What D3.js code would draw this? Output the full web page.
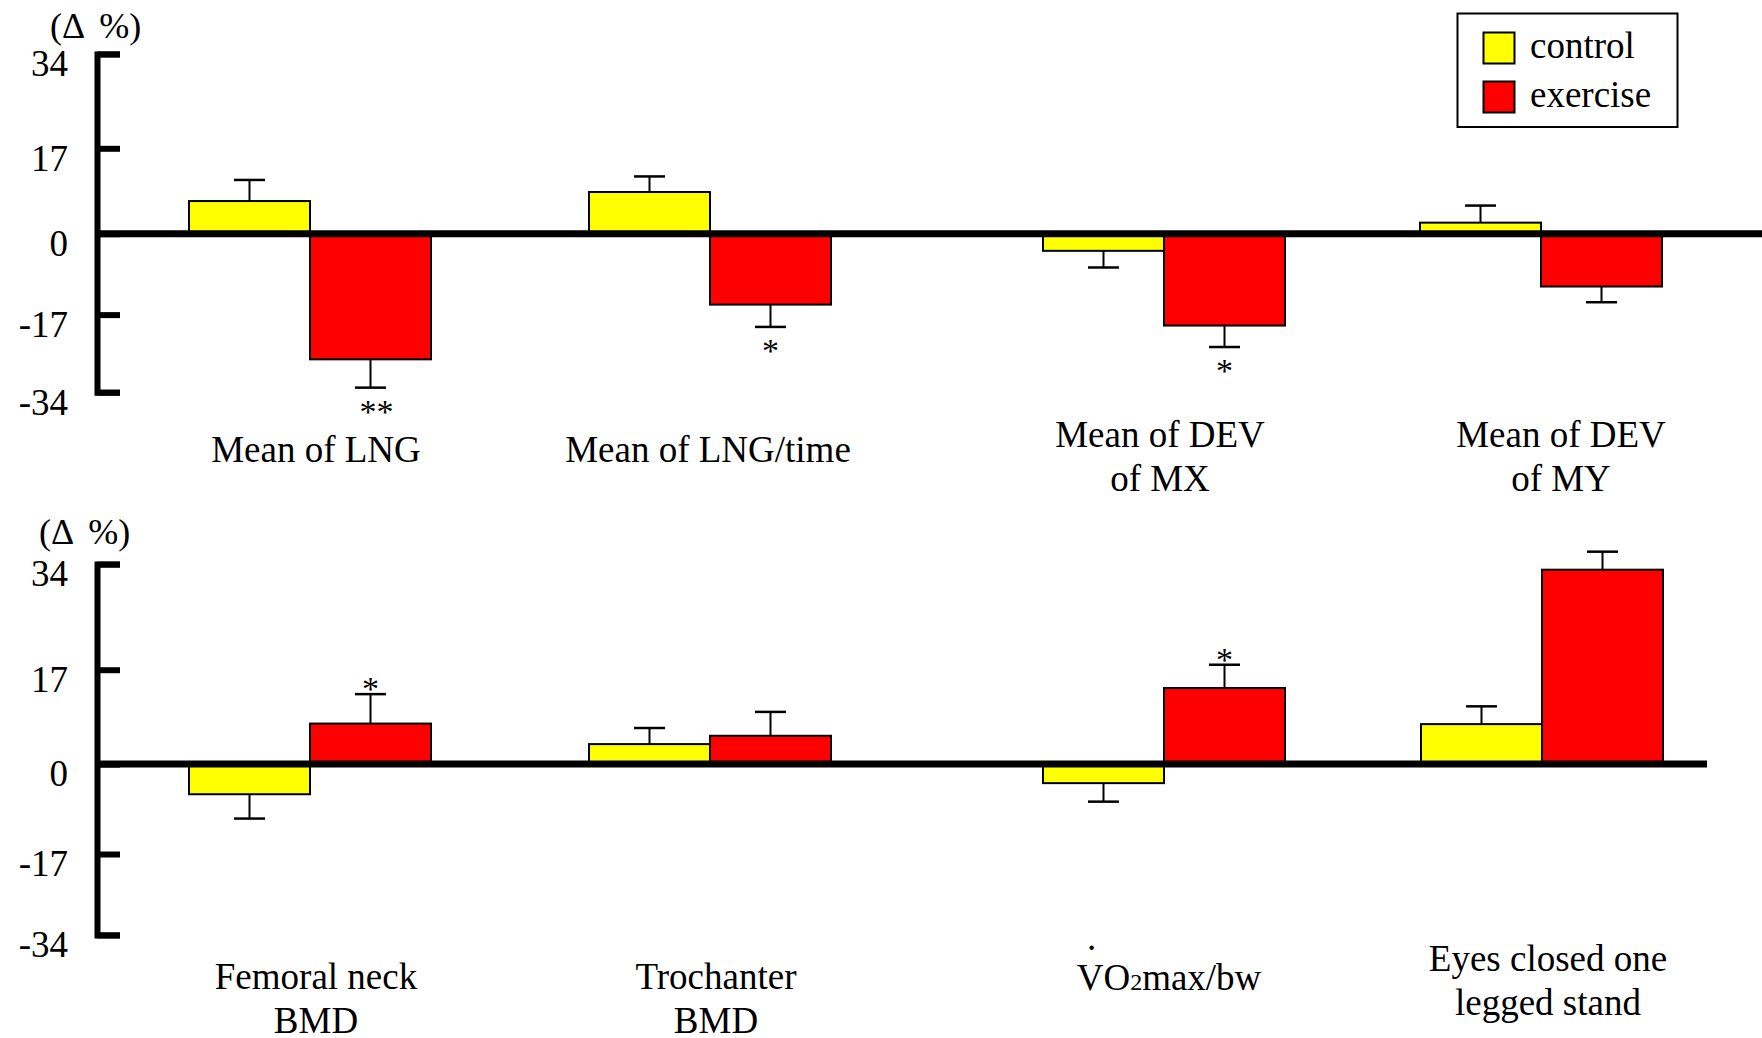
<!DOCTYPE html>
<html>
<head>
<meta charset="utf-8">
<script src="https://cdn.jsdelivr.net/npm/d3@7"></script>
<style>
  body { margin: 0; background: #fff; }
  svg { display: block; }
  text { font-family: "Liberation Serif", "Times New Roman", serif; fill: #000; }
</style>
</head>
<body>
<svg id="chart" width="1762" height="1038"></svg>
<script>
// ---- data ----------------------------------------------------------------
const ticks = [34, 17, 0, -17, -34];
const tickLabels = ["34", "17", "0", "-17", "-34"];
const seriesNames = ["control", "exercise"];
const seriesColors = ["#ffff00", "#ff0000"];
const unitLabel = "(\u0394 \u2009%)";

const topCategories = ["Mean of LNG", "Mean of LNG/time", "Mean of DEV\nof MX", "Mean of DEV\nof MY"];
const topControl = [6.5, 8.3, -3.6, 2.2];
const topControlErr = [4.2, 3.1, 3.5, 3.4];
const topExercise = [-26.8, -14.9, -19.4, -11.1];
const topExerciseErr = [6.2, 4.8, 4.7, 3.3];
const topExerciseSig = ["**", "*", "*", ""];

const bottomCategories = ["Femoral neck\nBMD", "Trochanter\nBMD", "VO2max/bw", "Eyes closed one\nlegged stand"];
const bottomControl = [-5.7, 3.6, -3.6, 7.2];
const bottomControlErr = [4.6, 2.9, 3.5, 3.2];
const bottomExercise = [7.3, 5.1, 13.7, 33.1];
const bottomExerciseErr = [5.3, 4.3, 4.1, 2.9];
const bottomExerciseSig = ["*", "", "*", ""];

// ---- layout --------------------------------------------------------------
const svg = d3.select("#chart");
const axisX = 97;
const barW = 121;
const capW = 31;

const panels = [
  {
    categories: topCategories,
    series: [
      { values: topControl, errs: topControlErr, sig: topControl.map(() => "") },
      { values: topExercise, errs: topExerciseErr, sig: topExerciseSig }
    ],
    tickPx: [53.9, 148.3, 233.7, 314.6, 392.2],
    centers: [310, 710, 1164, 1541],
    zeroEnd: 1762,
    unitPos: [50, 38],
    labelDx: [6, -2, -4, 20],
    labelY: [462, 462, 447, 447]
  },
  {
    categories: bottomCategories,
    series: [
      { values: bottomControl, errs: bottomControlErr, sig: bottomControl.map(() => "") },
      { values: bottomExercise, errs: bottomExerciseErr, sig: bottomExerciseSig }
    ],
    tickPx: [564.1, 669.7, 764.1, 854.0, 934.9],
    centers: [310, 710, 1164, 1542],
    zeroEnd: 1707,
    unitPos: [39, 544],
    labelDx: [6, 6, 5, 6],
    labelY: [989, 989, 990, 971]
  }
];

function drawPanel(p) {
  const g = svg.append("g");
  const y = d3.scaleLinear().domain(ticks).range(p.tickPx);
  const x = d3.scaleOrdinal().domain(p.categories).range(p.centers);

  const rows = [];
  p.series.forEach((s, si) => {
    p.categories.forEach((c, i) => {
      rows.push({ cat: c, si, value: s.values[i], err: s.errs[i], sig: s.sig[i] });
    });
  });
  const left = d => x(d.cat) + (d.si === 0 ? -barW : 0);
  const mid = d => left(d) + barW / 2;
  const end = d => d.value + (d.value < 0 ? -d.err : d.err);

  // bars
  g.selectAll("rect.bar").data(rows).join("rect")
    .attr("class", "bar")
    .attr("x", left)
    .attr("width", barW)
    .attr("y", d => Math.min(y(d.value), y(0)))
    .attr("height", d => Math.abs(y(d.value) - y(0)))
    .attr("fill", d => seriesColors[d.si])
    .attr("stroke", "#000")
    .attr("stroke-width", 2);

  // zero line
  g.append("line")
    .attr("x1", axisX).attr("x2", p.zeroEnd)
    .attr("y1", y(0)).attr("y2", y(0))
    .attr("stroke", "#000").attr("stroke-width", 7);

  // error bars
  const eb = g.selectAll("g.err").data(rows).join("g").attr("class", "err");
  eb.append("line")
    .attr("x1", mid).attr("x2", mid)
    .attr("y1", d => y(d.value)).attr("y2", d => y(end(d)))
    .attr("stroke", "#000").attr("stroke-width", 2);
  eb.append("line")
    .attr("x1", d => mid(d) - capW / 2).attr("x2", d => mid(d) + capW / 2)
    .attr("y1", d => y(end(d))).attr("y2", d => y(end(d)))
    .attr("stroke", "#000").attr("stroke-width", 2.5);

  // significance marks
  g.selectAll("text.sig").data(rows.filter(d => d.sig)).join("text")
    .attr("class", "sig")
    .attr("x", d => mid(d) + (d.sig.length > 1 ? 6 : 0))
    .attr("y", d => y(end(d)) + (d.value < 0 ? 35 : 6))
    .attr("text-anchor", "middle")
    .attr("font-size", 34)
    .text(d => d.sig);

  // y axis
  const axis = d3.axisLeft(y)
    .tickValues(ticks)
    .tickFormat((d, i) => tickLabels[i])
    .tickSize(-23)
    .tickSizeOuter(-23)
    .tickPadding(29);
  const ag = g.append("g").attr("transform", `translate(${axisX},0)`).call(axis);
  ag.attr("font-family", null).attr("font-size", 37);
  ag.select(".domain").attr("stroke-width", 6).attr("stroke-linejoin", "miter");
  ag.selectAll(".tick line").attr("stroke-width", 6);
  ag.selectAll(".tick text").attr("y", 10).attr("dy", "0.32em");

  // unit label
  g.append("text")
    .attr("x", p.unitPos[0]).attr("y", p.unitPos[1])
    .attr("font-size", 36)
    .text(unitLabel);

  // category labels
  p.categories.forEach((c, i) => {
    const cx = x(c) + p.labelDx[i];
    c.split("\n").forEach((line, li) => {
      const t = g.append("text")
        .attr("x", cx)
        .attr("y", p.labelY[i] + li * 44)
        .attr("text-anchor", "middle")
        .attr("font-size", 37);
      const m = line.match(/^(.*O)(2)(.*)$/);
      if (m) {
        t.append("tspan").text(m[1]);
        t.append("tspan").attr("font-size", 24).text(m[2]);
        t.append("tspan").text(m[3]);
        // dot over the V (rate notation)
        const bb = t.node().getBBox();
        g.append("text")
          .attr("x", bb.x + 15)
          .attr("y", p.labelY[i] - 40)
          .attr("text-anchor", "middle")
          .attr("font-size", 37)
          .text(".");
      } else {
        t.text(line);
      }
    });
  });
}

panels.forEach(drawPanel);

// legend
const lg = svg.append("g");
lg.append("rect")
  .attr("x", 1457.5).attr("y", 13.5).attr("width", 220).attr("height", 113.5)
  .attr("fill", "#fff").attr("stroke", "#000").attr("stroke-width", 2);
seriesNames.forEach((name, i) => {
  lg.append("rect")
    .attr("x", 1483.5).attr("y", 32.5 + i * 49)
    .attr("width", 31).attr("height", 31)
    .attr("fill", seriesColors[i]).attr("stroke", "#000").attr("stroke-width", 2);
  lg.append("text")
    .attr("x", 1530).attr("y", 58 + i * 49)
    .attr("font-size", 37)
    .text(name);
});
</script>
</body>
</html>
